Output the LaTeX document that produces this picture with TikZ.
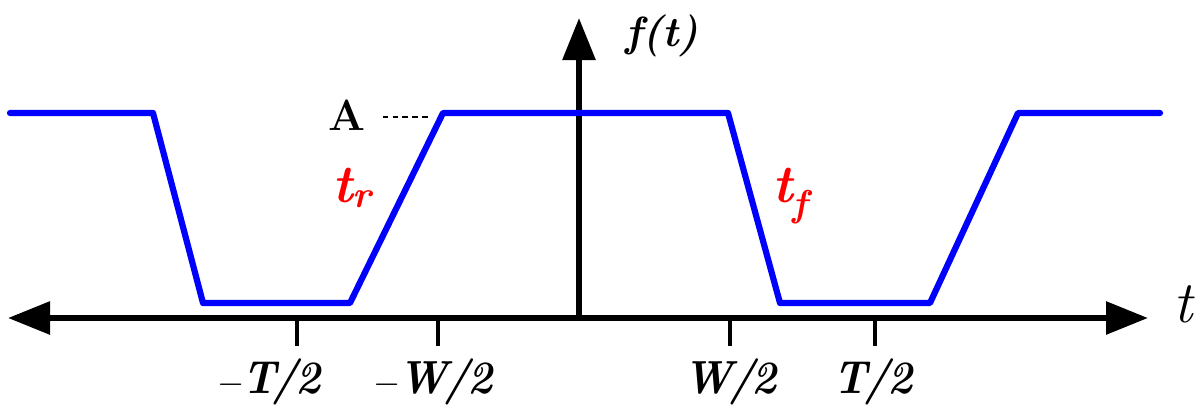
\documentclass[tikz,border=0pt]{standalone}
\usetikzlibrary{arrows.meta, positioning, calc}
\definecolor{sigblue}{RGB}{0,0,255}
\definecolor{sigred}{RGB}{255,0,0}
\newcommand{\half}[1]{\scalebox{0.92}[1]{#1\kern-0.08em/\kern-0.06em2}}
\tikzset{
  axis/.style={line width=4.2pt, -{Triangle[length=1.05cm, width=0.8cm]}, black},
  tick/.style={line width=3pt, black},
  wave/.style={line width=4.4pt, sigblue, line join=round, line cap=round},
  lbl/.style={font=\fontsize{33}{36}\selectfont\bfseries\itshape, inner sep=0pt},
  edge/.style={font=\fontsize{38}{42}\selectfont\itshape\bfseries, text=sigred, inner sep=0pt}
}

\begin{document}
\begin{tikzpicture}[x=0.025cm, y=-0.025cm]
  \useasboundingbox (0,0) rectangle (1204,408);
  % axes
  \coordinate (orig) at (579,318);
  \draw [axis] (orig) -- (1148,318);
  \draw [axis] (orig) -- (8,318);
  \draw [axis] (orig) -- (579,18);
  \node (flbl) [lbl, font=\fontsize{30}{34}\selectfont\bfseries\itshape] at (662,36) {f(t)};
  \node (tlbl) [lbl, font=\fontsize{42}{46}\selectfont\itshape, anchor=base] at (1183,322) {t};
  % ticks
  \foreach \x/\name in {297/mT, 438/mW, 730/pW, 875/pT}
    \draw [tick] (\x,321) -- (\x,346);
  \node (mT) [lbl, anchor=base] at (269,393) {$-$\kern-0.05em\half{T}};
  \node (mW) [lbl, anchor=base] at (433,393) {$-$\kern-0.05em\half{W}};
  \node (pW) [lbl, anchor=base] at (730,393) {\half{W}};
  \node (pT) [lbl, anchor=base] at (873,393) {\half{T}};
  % waveform
  \draw [wave] (10,113) -- (153,113) -- (203,303) -- (350,303) -- (443,113)
    -- (728,113) -- (780,303) -- (930,303) -- (1018,113) -- (1160,113);
  % amplitude
  \node (amp) [font=\fontsize{31}{34}\selectfont\bfseries, inner sep=0pt] at (347,115) {A};
  \coordinate (ampend) at (430,117);
  \draw [line width=1.3pt, dash pattern=on 4pt off 3pt] (amp.east) ++(17,2) -- (ampend);
  % edges
  \node (rise) [edge, anchor=base west] at (332,202) {t\textsubscript{r}};
  \node (fall) [edge, anchor=base west] at (772,202) {t\textsubscript{f}};
\end{tikzpicture}
\end{document}
